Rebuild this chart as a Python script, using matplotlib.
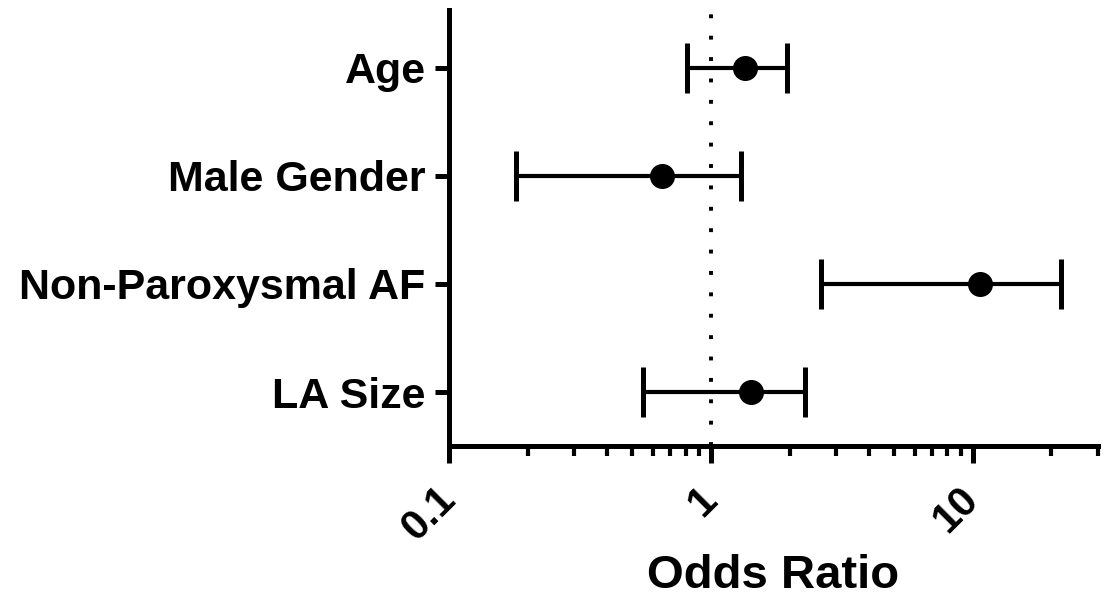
import matplotlib
matplotlib.use("Agg")
import matplotlib.pyplot as plt
from matplotlib.ticker import FixedLocator, NullFormatter

# odds ratios with 95% CI
labels = ["Age", "Male Gender", "Non-Paroxysmal AF", "LA Size"]
odds = [1.35, 0.65, 10.7, 1.42]
ci_low = [0.81, 0.18, 2.64, 0.55]
ci_high = [1.95, 1.30, 21.7, 2.29]

plt.rcParams['font.family'] = ['Liberation Sans', 'DejaVu Sans']
plt.rcParams['font.weight'] = 'bold'

fig = plt.figure(figsize=(11.12, 6.03), dpi=100)
ax = fig.add_axes([0.404, 0.26, 0.583, 0.723])

ypos = list(range(len(labels), 0, -1))
err = [[o - l for o, l in zip(odds, ci_low)], [h - o for o, h in zip(odds, ci_high)]]

ax.axvline(1, color='black', lw=2.8, linestyle=(0, (1, 4.5)), zorder=1)
ax.errorbar(odds, ypos, xerr=err, fmt='o', color='black', ms=17,
            elinewidth=3, capsize=18, capthick=3.6, zorder=3)

ax.set_xscale('log')
ax.set_xlim(0.1, 30)
ax.set_ylim(0.5, 4.53)

ax.xaxis.set_major_locator(FixedLocator([0.1, 1, 10]))
ax.xaxis.set_minor_locator(FixedLocator(
    [i * 0.1 for i in range(2, 10)] + list(range(2, 10)) + [20, 30]))
ax.xaxis.set_minor_formatter(NullFormatter())
ax.set_xticklabels(["0.1", "1", "10"], rotation=45, ha='right', va='center',
                   rotation_mode='anchor', fontsize=30, fontweight='bold')

ax.set_yticks(ypos)
ax.set_yticklabels(labels, fontsize=31, fontweight='bold')

for side in ['top', 'right']:
    ax.spines[side].set_visible(False)
for side in ['left', 'bottom']:
    ax.spines[side].set_linewidth(3.6)

ax.tick_params(axis='x', which='major', length=12, width=3.6, pad=22)
ax.tick_params(axis='x', which='minor', length=7, width=3)
ax.tick_params(axis='y', which='major', length=10, width=3.6, pad=7)

ax.set_xlabel("Odds Ratio", fontsize=34, fontweight='bold', labelpad=4)

fig.savefig("out.png", dpi=100)
